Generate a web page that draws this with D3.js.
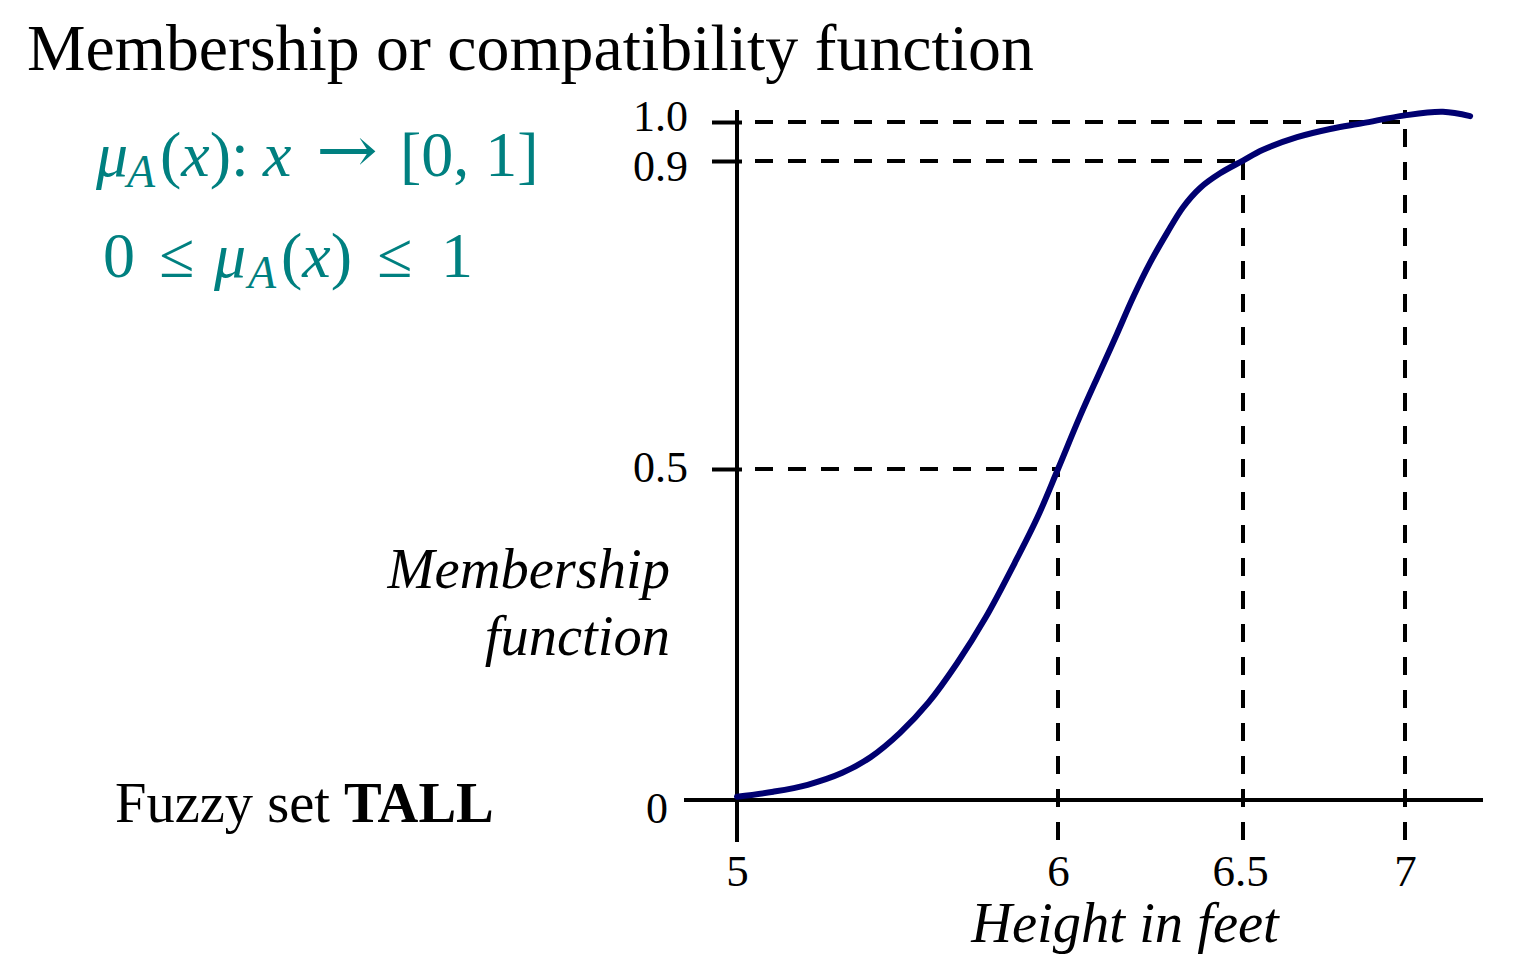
<!DOCTYPE html>
<html><head><meta charset="utf-8">
<script src="https://cdn.jsdelivr.net/npm/d3@7"></script>
<style>
body{margin:0;background:#fff}
svg{display:block}
text{font-family:"Liberation Serif","Times New Roman",serif}
</style>
</head><body>
<svg id="chart" width="1524" height="972"></svg>
<script>
// ---- data ----
const heightTicks = [5, 6, 6.5, 7];
const heightTickLabels = ["5", "6", "6.5", "7"];
const membershipTicks = [0, 0.5, 0.9, 1.0];
const membershipTickLabels = ["0", "0.5", "0.9", "1.0"];
// reference guides: (height, membership) pairs
const guideHeights = [6, 6.5, 7];
const guideMemberships = [0.5, 0.9, 1.0];
// membership curve of fuzzy set TALL
const curveHeight = [5.0, 5.113, 5.22, 5.328, 5.417, 5.507, 5.596, 5.686, 5.775, 5.865, 5.936, 6.0,
  6.059, 6.114, 6.159, 6.203, 6.249, 6.294, 6.338, 6.384, 6.438, 6.5, 6.56, 6.667, 6.769, 6.87, 7.0, 7.117, 7.201];
const curveMembership = [0.005, 0.0125, 0.023, 0.041, 0.065, 0.101, 0.147, 0.207, 0.276, 0.358, 0.427, 0.5,
  0.568, 0.627, 0.675, 0.723, 0.768, 0.806, 0.84, 0.865, 0.884, 0.901, 0.928, 0.961, 0.982, 0.997, 1.017, 1.026, 1.015];

// ---- layout ----
const svg = d3.select("#chart");
const x = d3.scaleLinear().domain(heightTicks).range([737, 1058, 1243, 1405]);
const y = d3.scaleLinear().domain(membershipTicks).range([800, 469, 161, 122]);
const teal = "#008080";
const navy = "#000070";

// title
svg.append("text").attr("x", 27).attr("y", 70).attr("font-size", 65.8)
  .text("Membership or compatibility function");

// formula 1:  μA(x): x → [0, 1]
const f1 = svg.append("text").attr("y", 176).attr("font-size", 64).attr("fill", teal);
f1.append("tspan").attr("x", 96).attr("font-style", "italic").text("μ");
f1.append("tspan").attr("x", 127).attr("dy", 11).attr("font-style", "italic").attr("font-size", 46).text("A");
f1.append("tspan").attr("x", 160).attr("dy", -11).text("(");
f1.append("tspan").attr("font-style", "italic").text("x");
f1.append("tspan").text("):");
f1.append("tspan").attr("x", 263).attr("font-style", "italic").text("x");
f1.append("tspan").attr("x", 400).attr("xml:space", "preserve").text("[0, 1]");
svg.append("text").attr("x", 316).attr("y", 172).attr("font-size", 64).attr("fill", teal)
  .style("font-family", "'DejaVu Serif', serif")
  .attr("textLength", 62).attr("lengthAdjust", "spacingAndGlyphs").text("→");

// formula 2:  0 ≤ μA(x) ≤ 1
const f2 = svg.append("text").attr("y", 277).attr("font-size", 64).attr("fill", teal);
f2.append("tspan").attr("x", 103).text("0");
f2.append("tspan").attr("x", 159).text("≤");
f2.append("tspan").attr("x", 214).attr("font-style", "italic").text("μ");
f2.append("tspan").attr("x", 248).attr("dy", 11).attr("font-style", "italic").attr("font-size", 46).text("A");
f2.append("tspan").attr("x", 281).attr("dy", -11).text("(");
f2.append("tspan").attr("font-style", "italic").text("x");
f2.append("tspan").text(")");
f2.append("tspan").attr("x", 377).text("≤");
f2.append("tspan").attr("x", 441).text("1");

// axis labels
svg.append("text").attr("x", 670).attr("y", 588).attr("font-size", 56.5).attr("font-style", "italic")
  .attr("text-anchor", "end").text("Membership");
svg.append("text").attr("x", 670).attr("y", 655).attr("font-size", 56.5).attr("font-style", "italic")
  .attr("text-anchor", "end").text("function");
const fz = svg.append("text").attr("x", 115).attr("y", 822).attr("font-size", 56.5);
fz.append("tspan").text("Fuzzy set ");
fz.append("tspan").attr("font-weight", "bold").text("TALL");
svg.append("text").attr("x", 1125).attr("y", 942).attr("font-size", 56.5).attr("font-style", "italic")
  .attr("text-anchor", "middle").text("Height in feet");

// guides (dashed)
const dash = "18,15";
const guides = svg.append("g").attr("stroke", "#000").attr("stroke-width", 4).attr("fill", "none");
guideHeights.forEach((h, i) => {
  const m = guideMemberships[i];
  guides.append("line").attr("x1", x(5) + 18).attr("x2", x(h))
    .attr("y1", y(m)).attr("y2", y(m)).attr("stroke-dasharray", dash);
  guides.append("line").attr("x1", x(h)).attr("x2", x(h))
    .attr("y1", y(0) + 40).attr("y2", i === guideHeights.length - 1 ? y(1) - 12 : y(m))
    .attr("stroke-dasharray", dash);
});

// axes lines
svg.append("line").attr("x1", x(5)).attr("x2", x(5)).attr("y1", y(1) - 12).attr("y2", y(0) + 42)
  .attr("stroke", "#000").attr("stroke-width", 4);
svg.append("line").attr("x1", x(5) - 53).attr("x2", 1483).attr("y1", y(0)).attr("y2", y(0))
  .attr("stroke", "#000").attr("stroke-width", 4);

// y axis ticks & labels
const yAxis = d3.axisLeft(y).tickValues(membershipTicks)
  .tickFormat((d, i) => membershipTickLabels[i]).tickSize(25).tickPadding(50);
const gy = svg.append("g").attr("transform", `translate(${x(5) + 5},0)`).call(yAxis);
gy.select(".domain").remove();
gy.selectAll(".tick line").attr("stroke", "#000").attr("stroke-width", 4)
  .attr("x1", -30).attr("x2", 0).style("display", d => d === 0 ? "none" : null);
const yLabelShift = {0: 22, 0.5: 12, 0.9: 19, 1: 8};
gy.selectAll(".tick text").attr("font-family", null).attr("font-size", 44).attr("fill", "#000")
  .attr("dy", null).attr("x", d => d === 0 ? -85 : -54)
  .attr("text-anchor", d => d === 0 ? "middle" : "end")
  .attr("y", d => yLabelShift[d]);

// x axis labels
const xAxis = d3.axisBottom(x).tickValues(heightTicks)
  .tickFormat((d, i) => heightTickLabels[i]).tickSize(0);
const gx = svg.append("g").attr("transform", `translate(0,${y(0)})`).call(xAxis);
gx.select(".domain").remove();
gx.selectAll(".tick line").remove();
gx.selectAll(".tick text").attr("font-family", null).attr("font-size", 45).attr("fill", "#000")
  .attr("dy", null).attr("y", 86).attr("dx", d => d === 6.5 ? -3 : 0);

// curve
const line = d3.line().x((d, i) => x(curveHeight[i])).y((d, i) => y(curveMembership[i]))
  .curve(d3.curveCatmullRom.alpha(0.5));
svg.append("path").attr("d", line(curveHeight)).attr("fill", "none")
  .attr("stroke", navy).attr("stroke-width", 6).attr("stroke-linecap", "round");
</script>
</body></html>
